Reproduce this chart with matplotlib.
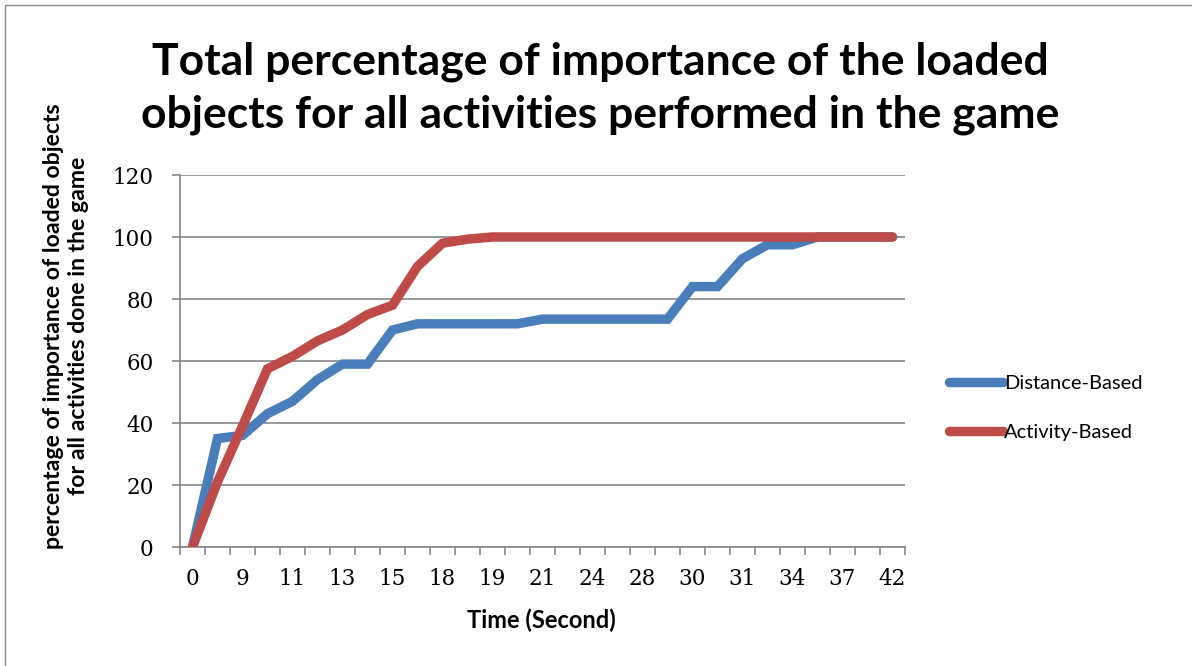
import matplotlib
matplotlib.use("Agg")
import matplotlib.pyplot as plt
from matplotlib.patches import Rectangle
from matplotlib.ticker import FixedLocator, NullFormatter
import numpy as np

# Shown time labels (every second category of the time axis)
time_labels = ["0", "9", "11", "13", "15", "18", "19", "21", "24", "28",
               "30", "31", "34", "37", "42"]

# Percentage of importance of loaded objects per sample
distance_based = [0, 35, 36, 43, 47, 54, 59, 59, 70, 72, 72, 72, 72, 72,
                  73.5, 73.5, 73.5, 73.5, 73.5, 73.5, 84, 84, 93, 97.5,
                  97.5, 100, 100, 100, 100]
activity_based = [0, 21, 39, 57.5, 61.5, 66.5, 70, 75, 78, 90.5, 98, 99.3,
                  100, 100, 100, 100, 100, 100, 100, 100, 100, 100, 100, 100,
                  100, 100, 100, 100, 100]

series_names = ["Distance-Based", "Activity-Based"]
series_colors = ["#4A7EBB", "#BE4B48"]

W, H = 1192, 666
fig = plt.figure(figsize=(W / 100, H / 100), dpi=100)
fig.patch.set_facecolor("white")

# chart-area border
fig.patches.append(Rectangle((5 / W, -0.05), 1.2, 1 - 5 / H + 0.05,
                             transform=fig.transFigure, fill=False,
                             edgecolor="#8C8C8C", linewidth=1.0))

ax = fig.add_axes([180 / W, 1 - 547 / H, 725 / W, (547 - 175) / H])

n = len(distance_based)
x = np.arange(n)
grid_col = "#868686"

lines = []
for vals, name, col in zip([distance_based, activity_based], series_names, series_colors):
    ln, = ax.plot(x, vals, color=col, linewidth=6.8, label=name,
                  solid_capstyle="round", solid_joinstyle="miter", zorder=3)
    lines.append(ln)

ax.set_xlim(-0.5, n - 0.5)
ax.set_ylim(0, 120)

# y axis
ax.set_yticks(np.arange(0, 121, 20))
ax.yaxis.grid(True, color=grid_col, linewidth=1.2)
ax.set_axisbelow(True)
ax.tick_params(axis="y", direction="out", length=6, width=1.2, color=grid_col,
               labelsize=15.5, pad=13)

# x axis: labels on every other category, tick marks between categories
ax.xaxis.set_major_locator(FixedLocator(np.arange(0, n, 2)))
ax.set_xticklabels(time_labels)
ax.xaxis.set_minor_locator(FixedLocator(np.arange(-0.5, n, 1)))
ax.xaxis.set_minor_formatter(NullFormatter())
ax.tick_params(axis="x", which="major", length=0, labelsize=15.5, pad=15)
ax.tick_params(axis="x", which="minor", direction="out", length=6, width=1.2,
               color=grid_col)

for lab in ax.get_xticklabels() + ax.get_yticklabels():
    lab.set_fontfamily("DejaVu Serif")

for s in ["top", "right"]:
    ax.spines[s].set_visible(False)
for s in ["left", "bottom"]:
    ax.spines[s].set_color(grid_col)
    ax.spines[s].set_linewidth(1.2)

# axis titles
fig.text(541 / W, 1 - 620 / H, "Time (Second)", ha="center", va="center",
         fontfamily="Lato", fontweight="bold", fontsize=17)
fig.text(66 / W, 1 - 326 / H,
         "percentage of importance of loaded objects\nfor all activities done in the game",
         ha="center", va="center", rotation=90, fontfamily="Lato",
         fontweight="bold", fontsize=16.6, linespacing=1.2)

fig.text(600 / W, 1 - 88 / H,
         "Total percentage of importance of the loaded\nobjects for all activities performed in the game",
         ha="center", va="center", fontfamily="Lato", fontweight="bold",
         fontsize=32, linespacing=1.38)

fig.legend(handles=lines, labels=series_names, loc="center left",
           bbox_to_anchor=(941 / W, 1 - 408 / H), frameon=False,
           prop={"family": "Lato", "size": 14.5}, handlelength=2.7,
           handletextpad=0.05, labelspacing=1.55, borderaxespad=0)

fig.savefig("out.png", dpi=100, facecolor="white")
